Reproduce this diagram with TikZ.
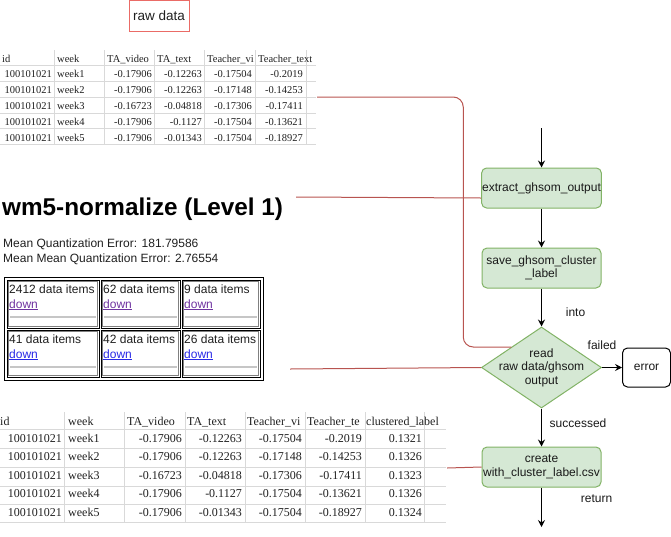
\documentclass[tikz,border=0pt]{standalone}
\usepackage{fontspec}
\setmainfont{Liberation Sans}
\newfontfamily\xlsfont{Liberation Serif}
\usetikzlibrary{positioning,arrows.meta,calc,shapes.geometric}
\definecolor{leaf}{HTML}{D5E8D4}
\definecolor{leafline}{HTML}{82B366}
\definecolor{rust}{HTML}{B85450}
\definecolor{rosy}{HTML}{EA6B66}
\definecolor{gridgray}{HTML}{D9D9D9}
\definecolor{visited}{RGB}{110,50,160}
\definecolor{fresh}{RGB}{40,40,230}
\tikzset{
  box/.style={draw,rounded corners=5pt,align=center,font=\fontsize{12}{13.5}\selectfont,inner sep=0.5pt,line width=1pt,text=black!90},
  proc/.style={box,fill=leaf,draw=leafline,minimum width=119pt,minimum height=40pt},
  decide/.style={diamond,draw=leafline,fill=leaf,line width=1pt,minimum width=120pt,minimum height=81pt,inner sep=0pt},
  stopbox/.style={box,minimum width=48pt,minimum height=39pt},
  flow/.style={-{Stealth[length=7pt,width=7pt,inset=2.5pt]},line width=1pt},
  link/.style={draw=rust,line width=1pt},
  lbl/.style={font=\fontsize{12}{13.5}\selectfont,inner sep=0pt,text=black!90},
  txt/.style={inner sep=0pt,text=black!88},
  page/.style={txt,font=\fontsize{12}{14}\selectfont},
  gridline/.style={draw=gridgray,line width=0.8pt},
}

\begin{document}
\begin{tikzpicture}[x=1pt,y=-1pt]
  \useasboundingbox (0,0) rectangle (671,536);

  % raw data table
  \node[draw=rosy,line width=1pt,minimum width=60pt,minimum height=31pt,inner sep=0pt,
        font=\fontsize{13.5}{16}\selectfont,text=black!88] (raw) at (159,16) {raw data};
  \begin{scope}[font=\xlsfont\fontsize{10.5}{12}\selectfont]
    \foreach \y in {65,81,97,113,128,144} \draw[gridline] (0,\y) -- (316,\y);
    \foreach \x in {54,104,154,204,255,306} \draw[gridline] (\x,50) -- (\x,144);
    \foreach \t/\x [count=\i] in {id/2,week/57,TA\_video/107,TA\_text/157,Teacher\_vi/207,Teacher\_text/258}
      \node[txt,anchor=base west] (ra-h\i) at (\x,62) {\t};
    \foreach \w/\a/\b/\c/\d [count=\i] in {
        week1/-0.17906/-0.12263/-0.17504/-0.2019,
        week2/-0.17906/-0.12263/-0.17148/-0.14253,
        week3/-0.16723/-0.04818/-0.17306/-0.17411,
        week4/-0.17906/-0.1127/-0.17504/-0.13621,
        week5/-0.17906/-0.01343/-0.17504/-0.18927} {
      \pgfmathsetmacro\yy{61+16*\i}
      \node[txt,anchor=base east] (ra-\i-1) at (52,\yy) {100101021};
      \node[txt,anchor=base west] (ra-\i-2) at (57,\yy) {\w};
      \node[txt,anchor=base east] (ra-\i-3) at (152,\yy) {\a};
      \node[txt,anchor=base east] (ra-\i-4) at (202,\yy) {\b};
      \node[txt,anchor=base east] (ra-\i-5) at (252,\yy) {\c};
      \node[txt,anchor=base east] (ra-\i-6) at (303,\yy) {\d};
    }
  \end{scope}

  % ghsom result page
  \node[txt,anchor=base west,font=\bfseries\fontsize{24.3}{28}\selectfont,text=black] (title) at (2,215) {wm5-normalize (Level 1)};
  \node[page,anchor=base west] (mqe) at (3,247.5) {Mean Quantization Error: 181.79586};
  \node[page,anchor=base west] (mmqe) at (3,262) {Mean Mean Quantization Error: 2.76554};
  \draw[line width=1pt] (4,277) rectangle (263,380);
  \foreach \xa/\xb in {7/99,101/180,182/260}
    \foreach \ya/\yb in {280/328,330/377} {
      \draw[line width=1pt] (\xa,\ya) rectangle (\xb,\yb);
      \draw[gray,line width=0.8pt] (\xa+1.4,\ya+1.4) rectangle (\xb-1.4,\yb-1.4);
      \draw[gray!45,line width=1.6pt] (\xa+3,\ya+37) -- (\xb-3,\ya+37);
    }
  \foreach \n/\xa/\ya/\col [count=\i] in {2412/7/280/visited,62/101/280/visited,9/182/280/visited,
                                          41/7/330/fresh,42/101/330/fresh,26/182/330/fresh} {
    \node[page,anchor=base west] (som-\i) at (\xa+2,\ya+13.5) {\n\ data items};
    \node[page,anchor=base west,text=\col] (dn-\i) at (\xa+2,\ya+28) {\underline{down}};
  }

  % clustered table
  \begin{scope}[font=\xlsfont\fontsize{12}{14}\selectfont]
    \foreach \y in {429,448,467,486,504,522} \draw[gridline] (0,\y) -- (446,\y);
    \foreach \x in {64,124,185,245,305,365,424} \draw[gridline] (\x,412) -- (\x,522);
    \foreach \t/\x [count=\i] in {id/0,week/68,TA\_video/127,TA\_text/187,Teacher\_vi/247,Teacher\_te/307,clustered\_label/366}
      \node[txt,anchor=base west] (cl-h\i) at (\x,425) {\t};
    \foreach \w/\a/\b/\c/\d/\e [count=\i] in {
        week1/-0.17906/-0.12263/-0.17504/-0.2019/0.1321,
        week2/-0.17906/-0.12263/-0.17148/-0.14253/0.1326,
        week3/-0.16723/-0.04818/-0.17306/-0.17411/0.1323,
        week4/-0.17906/-0.1127/-0.17504/-0.13621/0.1326,
        week5/-0.17906/-0.01343/-0.17504/-0.18927/0.1324} {
      \pgfmathsetmacro\yy{423.4+18.6*\i}
      \node[txt,anchor=base east] (cl-\i-1) at (62,\yy) {100101021};
      \node[txt,anchor=base west] (cl-\i-2) at (68,\yy) {\w};
      \node[txt,anchor=base east] (cl-\i-3) at (182,\yy) {\a};
      \node[txt,anchor=base east] (cl-\i-4) at (242,\yy) {\b};
      \node[txt,anchor=base east] (cl-\i-5) at (302,\yy) {\c};
      \node[txt,anchor=base east] (cl-\i-6) at (362,\yy) {\d};
      \node[txt,anchor=base east] (cl-\i-7) at (422,\yy) {\e};
    }
  \end{scope}

  % flow
  \node[proc] (extract) at (541.5,188) {extract\_ghsom\_output};
  \node[proc,below=39pt of extract] (save) {save\_ghsom\_cluster\\\_label};
  \node[decide,below=38pt of save,label={[lbl,align=center]center:read\\raw data/ghsom\\output}] (dec) {};
  \node[proc,below=38pt of dec] (create) {create\\with\_cluster\_label.csv};
  \node[stopbox,right=20pt of dec] (err) {error};
  \coordinate (in) at (541.5,128);
  \coordinate (out) at (541.5,527);
  \draw[flow] (in) -- (extract);
  \draw[flow] (extract) -- (save);
  \draw[flow] (save) -- node[lbl,pos=0.625,xshift=34pt] {into} (dec);
  \draw[flow] (dec) -- node[lbl,pos=0,yshift=22pt] {failed} (err);
  \draw[flow] (dec) -- node[lbl,pos=0.385,xshift=36.5pt] {successed} (create);
  \draw[flow] (create) -- node[lbl,pos=0.28,xshift=55pt] {return} (out);

  % links from the pictures
  \coordinate (rawtab) at (317,97);
  \coordinate (titleend) at (296,197);
  \coordinate (somtab) at (290,369);
  \coordinate (clutab) at (447,468);
  \coordinate (decnw) at ($(dec.west)!0.5!(dec.north)$);
  \draw[link,rounded corners=10pt] (rawtab) -| ([xshift=-48pt]decnw) -- (decnw);
  \draw[link] (titleend) -- ([yshift=-10pt]extract.west);
  \draw[link] (somtab) -- (dec.west);
  \draw[link] (clutab) -- (create.west);
\end{tikzpicture}
\end{document}
